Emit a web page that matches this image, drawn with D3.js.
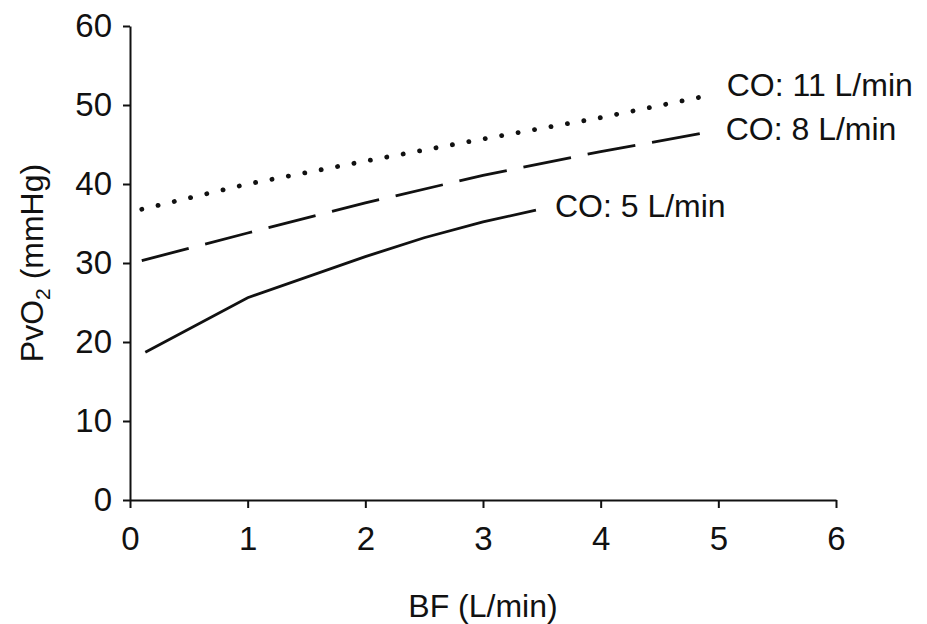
<!DOCTYPE html>
<html>
<head>
<meta charset="utf-8">
<script src="https://cdnjs.cloudflare.com/ajax/libs/d3/7.8.5/d3.min.js"></script>
<style>
  body { margin: 0; background: #fff; }
  text { font-family: "Liberation Sans", Arial, sans-serif; fill: #111; }
</style>
</head>
<body>
<script>
var w = 927;
var h = 624;

//Data
var bf = [0.1, 1, 2, 3, 4, 4.85];
var co11 = [36.8, 40.0, 42.9, 45.7, 48.4, 51.0];
var co8 = [30.3, 33.8, 37.6, 41.1, 44.1, 46.4];
var bf5 = [0.13, 1, 2, 2.5, 3, 3.45];
var co5 = [18.7, 25.6, 30.8, 33.2, 35.2, 36.7];
var seriesNames = ["CO: 11 L/min", "CO: 8 L/min", "CO: 5 L/min"];
var xTicks = [0, 1, 2, 3, 4, 5, 6];
var yTicks = [0, 10, 20, 30, 40, 50, 60];

var margin = {left: 130, top: 26, right: 91, bottom: 124};
var fs = 33;

var x = d3.scaleLinear().domain([0, 6]).range([margin.left, w - margin.right]);
var y = d3.scaleLinear().domain([0, 60]).range([h - margin.bottom, margin.top]);

var svg = d3.select("body")
            .append("svg")
            .attr("width", w)
            .attr("height", h);

//Axes
var xAxis = svg.append("g")
	.attr("transform", "translate(0," + y(0) + ")")
	.call(d3.axisBottom(x).tickValues(xTicks).tickFormat(d3.format("d"))
		.tickSize(8).tickPadding(19).tickSizeOuter(0));
var yAxis = svg.append("g")
	.attr("transform", "translate(" + x(0) + ",0)")
	.call(d3.axisLeft(y).tickValues(yTicks).tickFormat(d3.format("d"))
		.tickSize(7).tickPadding(11).tickSizeOuter(0));

[xAxis, yAxis].forEach(function(g) {
	g.selectAll("path, line").attr("stroke", "#111").attr("stroke-width", 2);
	g.selectAll("text").attr("font-size", fs).attr("fill", "#111")
		.style("font-family", "'Liberation Sans', Arial, sans-serif");
});

//Lines
var line = d3.line()
	.x(function(d) { return x(d[0]); })
	.y(function(d) { return y(d[1]); });

var series = [
	{name: seriesNames[0], pts: d3.zip(bf, co11), dash: "0.1 16.6", cap: "round", sw: 4.8, dx: 26, dy: -1},
	{name: seriesNames[1], pts: d3.zip(bf, co8), dash: "48.5 17", cap: "butt", sw: 2.8, dx: 25, dy: 7},
	{name: seriesNames[2], pts: d3.zip(bf5, co5), dash: null, cap: "butt", sw: 2.8, dx: 19, dy: 7}
];

svg.selectAll("path.series")
	.data(series)
	.enter()
	.append("path")
	.attr("class", "series")
	.attr("d", function(d) { return line(d.pts); })
	.attr("fill", "none")
	.attr("stroke", "#111")
	.attr("stroke-width", function(d) { return d.sw; })
	.attr("stroke-linecap", function(d) { return d.cap; })
	.attr("stroke-dasharray", function(d) { return d.dash; });

//Series labels
svg.selectAll("text.label")
	.data(series)
	.enter()
	.append("text")
	.attr("class", "label")
	.attr("font-size", 32)
	.attr("x", function(d) { return x(d.pts[d.pts.length - 1][0]) + d.dx; })
	.attr("y", function(d) { return y(d.pts[d.pts.length - 1][1]) + d.dy; })
	.text(function(d) { return d.name; });

//Axis titles
svg.append("text")
	.attr("x", x(3))
	.attr("y", 617)
	.attr("text-anchor", "middle")
	.attr("font-size", 32)
	.text("BF (L/min)");

var yt = svg.append("text")
	.attr("transform", "translate(43," + y(30) + ") rotate(-90)")
	.attr("text-anchor", "middle")
	.attr("font-size", 32);
yt.append("tspan").text("PvO");
yt.append("tspan").attr("font-size", 21).attr("dy", 7).text("2");
yt.append("tspan").attr("dy", -7).text(" (mmHg)");
</script>
</body>
</html>
